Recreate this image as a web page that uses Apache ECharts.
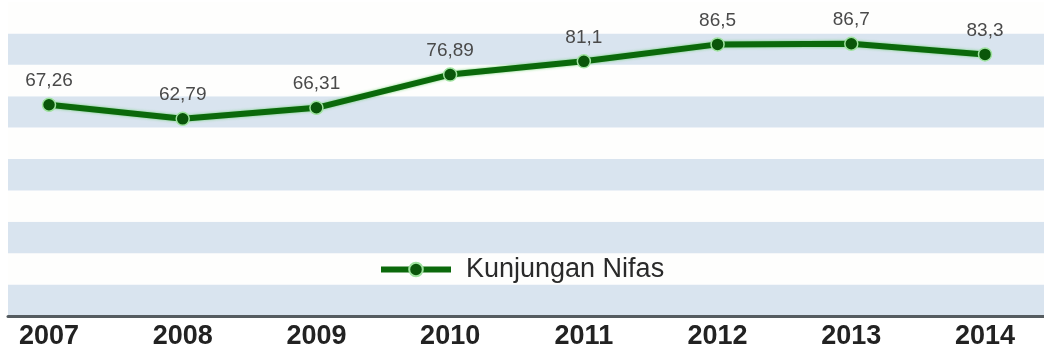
<!DOCTYPE html>
<html>
<head>
<meta charset="utf-8">
<script src="https://cdn.jsdelivr.net/npm/echarts@6/dist/echarts.min.js"></script>
<style>
  html, body { margin: 0; padding: 0; background: #ffffff; }
  #chart { width: 1044px; height: 352px; }
</style>
</head>
<body>
<div id="chart"></div>
<script>
// Postnatal visit coverage (%) per year
const years = ['2007', '2008', '2009', '2010', '2011', '2012', '2013', '2014'];
const kunjunganNifas = [67.26, 62.79, 66.31, 76.89, 81.1, 86.5, 86.7, 83.3];
const seriesName = 'Kunjungan Nifas';

const chart = echarts.init(document.getElementById('chart'), null, { renderer: 'canvas' });

const lineGreen = '#0b690b';
const fontFamily = '"Liberation Sans", Arial, sans-serif';

chart.setOption({
  backgroundColor: '#ffffff',
  animation: false,
  legend: {
    data: [seriesName],
    left: 373,
    top: 251,
    itemWidth: 70,
    itemHeight: 17,
    itemGap: 10,
    lineStyle: { width: 6 },
    textStyle: {
      fontFamily: fontFamily,
      fontSize: 27,
      color: '#2a2a2a',
      padding: [0, 0, 0, 10]
    }
  },
  grid: [
    // striped background and baseline across the full width
    { left: 8, right: 0, top: 2, bottom: 36 },
    // data area, points sit on the category ticks
    { left: 49, right: 59, top: 2, bottom: 36 }
  ],
  xAxis: [
    {
      type: 'value', gridIndex: 0, min: 0, max: 1,
      axisLine: { show: true, lineStyle: { color: '#555c60', width: 3 } },
      axisTick: { show: false },
      axisLabel: { show: false },
      splitLine: { show: false }
    },
    {
      type: 'category', gridIndex: 1, data: years, boundaryGap: false,
      axisLine: { show: false },
      axisTick: { show: false },
      splitLine: { show: false },
      axisLabel: {
        margin: 7,
        fontFamily: fontFamily,
        fontSize: 27,
        fontWeight: 'bold',
        color: '#222222'
      }
    }
  ],
  yAxis: [
    {
      type: 'value', gridIndex: 0, min: 0, max: 100, interval: 10,
      axisLine: { show: false },
      axisTick: { show: false },
      axisLabel: { show: false },
      splitLine: { show: false },
      splitArea: { show: true, areaStyle: { color: ['#d9e4ef', '#fefefd'] } }
    },
    {
      type: 'value', gridIndex: 1, min: 0, max: 100, interval: 10,
      show: false
    }
  ],
  series: [
    {
      name: seriesName,
      type: 'line',
      xAxisIndex: 1,
      yAxisIndex: 1,
      data: kunjunganNifas,
      smooth: false,
      symbol: 'circle',
      symbolSize: 13,
      lineStyle: {
        color: lineGreen,
        width: 6,
        shadowColor: 'rgba(70, 200, 70, 0.7)',
        shadowBlur: 3
      },
      itemStyle: {
        color: '#0a560a',
        borderColor: '#9fe39f',
        borderWidth: 1.5
      },
      label: {
        show: true,
        position: 'top',
        distance: 7,
        fontFamily: fontFamily,
        fontSize: 19,
        color: '#4a4a4a',
        formatter: p => String(p.value).replace('.', ',')
      },
      z: 3
    }
  ]
});
</script>
</body>
</html>
